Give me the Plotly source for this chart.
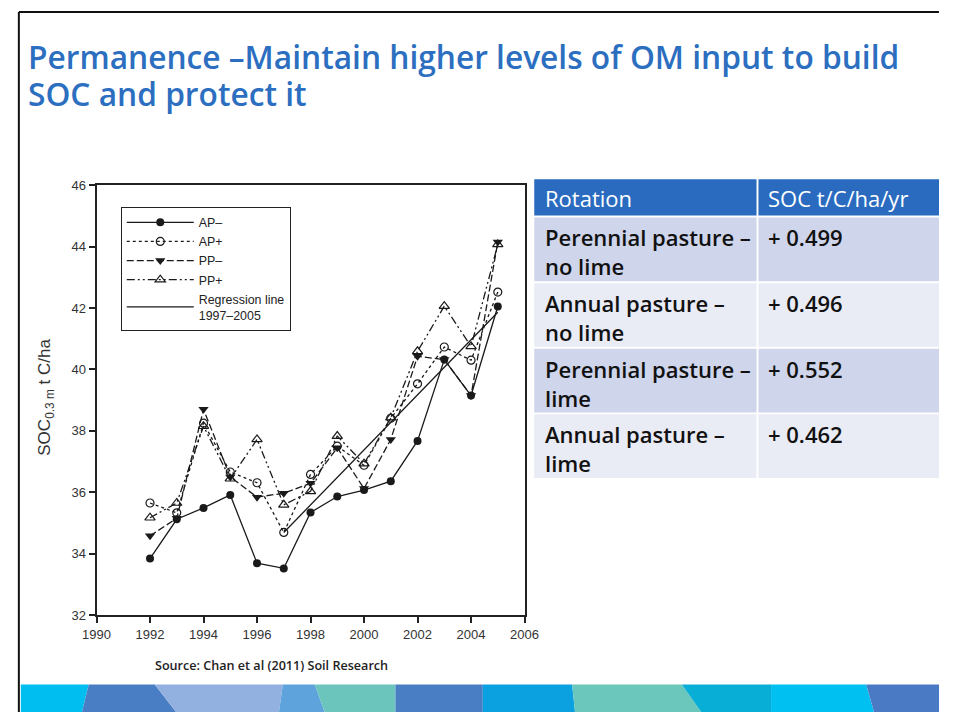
import plotly.graph_objects as go

W, H = 953, 720

years = [1992, 1993, 1994, 1995, 1996, 1997, 1998, 1999, 2000, 2001, 2002, 2003, 2004, 2005]
ap_minus = [33.84, 35.12, 35.49, 35.91, 33.69, 33.52, 35.34, 35.86, 36.07, 36.36, 37.67, 40.32, 39.15, 42.05]
ap_plus = [35.65, 35.33, 38.25, 36.66, 36.31, 34.69, 36.58, 37.50, 36.88, 38.41, 39.53, 40.73, 40.30, 42.52]
pp_minus = [34.58, 35.15, 38.70, 36.50, 35.84, 35.97, 36.29, 37.45, 36.12, 37.72, 40.43, 40.32, 39.15, 44.15]
pp_plus = [35.17, 35.65, 38.15, 36.44, 37.72, 35.59, 36.03, 37.83, 36.93, 38.43, 40.59, 42.06, 40.75, 44.07]
reg_years = [1997, 2005]
reg_values = [34.69, 41.86]

x_ticks = [1990, 1992, 1994, 1996, 1998, 2000, 2002, 2004, 2006]
y_ticks = [32, 34, 36, 38, 40, 42, 44, 46]

table_header = ["Rotation", "SOC t/C/ha/yr"]
rotations = ["Perennial pasture –<br>no lime", "Annual pasture –<br>no lime",
             "Perennial pasture –<br>lime", "Annual pasture –<br>lime"]
rates = ["+ 0.499", "+ 0.496", "+ 0.552", "+ 0.462"]

title_lines = ["Permanence –Maintain higher levels of OM input to build", "SOC and protect it"]
source_text = "Source: Chan et al (2011) Soil Research"


def fx(px):
    return px / W


def fy(py):
    return 1 - py / H


INK = "#1a1a1a"
fig = go.Figure()

fig.add_trace(go.Scatter(x=years, y=ap_minus, name="AP–", mode="lines+markers",
                         line=dict(color=INK, width=1.3),
                         marker=dict(symbol="circle", size=8, color=INK)))
fig.add_trace(go.Scatter(x=years, y=ap_plus, name="AP+", mode="lines+markers",
                         line=dict(color=INK, width=1.3, dash="dot"),
                         marker=dict(symbol="circle-open", size=8, color=INK, line=dict(width=1.2))))
fig.add_trace(go.Scatter(x=years, y=pp_minus, name="PP–", mode="lines+markers",
                         line=dict(color=INK, width=1.3, dash="7px,3px"),
                         marker=dict(symbol="triangle-down", size=9, color=INK)))
fig.add_trace(go.Scatter(x=years, y=pp_plus, name="PP+", mode="lines+markers",
                         line=dict(color=INK, width=1.3, dash="8px,3px,2px,3px,2px,3px"),
                         marker=dict(symbol="triangle-up-open", size=9, color=INK, line=dict(width=1.2))))
fig.add_trace(go.Scatter(x=reg_years, y=reg_values, name="Regression line<br>1997–2005", mode="lines",
                         line=dict(color=INK, width=1.3)))

axis_common = dict(showgrid=False, zeroline=False, showline=True, linecolor="#222", linewidth=2,
                   mirror=True, ticks="outside", ticklen=6, tickwidth=2, tickcolor="#222",
                   tickfont=dict(family="Liberation Sans, Arial", size=13, color="#333"))
fig.update_xaxes(domain=[fx(85), fx(526)], range=[1990, 2006], tickvals=x_ticks, **axis_common)
fig.update_yaxes(domain=[fy(621), fy(182)], range=[32, 46], tickvals=y_ticks, **axis_common)

TITLE_FONT = dict(family="Open Sans", size=31.7, color="#2C6EBF", weight=600)
annotations = [
    dict(text=title_lines[0], x=fx(12), y=fy(51), xanchor="left", yanchor="middle", font=TITLE_FONT),
    dict(text=title_lines[1], x=fx(12), y=fy(88), xanchor="left", yanchor="middle", font=TITLE_FONT),
    dict(text="SOC<sub>0.3 m</sub> t C/ha", x=fx(33), y=fy(399), textangle=-90,
         xanchor="center", yanchor="middle",
         font=dict(family="Liberation Sans, Arial", size=17, color="#333")),
    dict(text=source_text, x=fx(143), y=fy(672), xanchor="left", yanchor="middle",
         font=dict(family="Open Sans", size=12.6, color="#222", weight=600)),
]

shapes = []

# table drawn from the lists
col_x = [536, 766, 953]
header_top, header_h, row_h, gap = 176, 37, 65, 2
shapes.append(dict(type="rect", x0=fx(col_x[0]), x1=fx(col_x[1] - 1), y0=fy(header_top),
                   y1=fy(header_top + header_h), fillcolor="#2A6BBF", line=dict(width=0)))
shapes.append(dict(type="rect", x0=fx(col_x[1] + 1), x1=fx(col_x[2]), y0=fy(header_top),
                   y1=fy(header_top + header_h), fillcolor="#2A6BBF", line=dict(width=0)))
for j, htxt in enumerate(table_header):
    annotations.append(dict(text=htxt, x=fx(col_x[j] + 9), y=fy(header_top + header_h / 2 + 1),
                            xanchor="left", yanchor="middle",
                            font=dict(family="Open Sans", size=22, color="white", weight=500)))
for i, (rot, rate) in enumerate(zip(rotations, rates)):
    top = header_top + header_h + gap + i * (row_h + gap)
    fill = "#CFD5EA" if i % 2 == 0 else "#E9EBF5"
    shapes.append(dict(type="rect", x0=fx(col_x[0]), x1=fx(col_x[1] - 1), y0=fy(top),
                       y1=fy(top + row_h), fillcolor=fill, line=dict(width=0)))
    shapes.append(dict(type="rect", x0=fx(col_x[1] + 1), x1=fx(col_x[2]), y0=fy(top),
                       y1=fy(top + row_h), fillcolor=fill, line=dict(width=0)))
    for j, txt in enumerate([rot, rate]):
        annotations.append(dict(text=txt, x=fx(col_x[j] + 9), y=fy(top + 3), xanchor="left",
                                yanchor="top", align="left",
                                font=dict(family="Open Sans", size=22, color="#111111", weight=600)))

for a in annotations:
    a.update(xref="paper", yref="paper", showarrow=False)

# decorative bottom band
band = [
    ((7, 77), (7, 70), "#00BFF0"),
    ((77, 145), (70, 167), "#4A7EC4"),
    ((145, 277), (167, 273), "#92B0E0"),
    ((277, 310), (273, 320), "#5FA3DC"),
    ((310, 393), (320, 393), "#6BC5BC"),
    ((393, 483), (393, 483), "#4A7EC4"),
    ((483, 575), (483, 578), "#0BA0E0"),
    ((575, 688), (578, 708), "#6BC6BB"),
    ((688, 780), (708, 780), "#08AED6"),
    ((780, 878), (780, 886), "#00C0F2"),
    ((878, 953), (886, 953), "#4A7AC4"),
]
for (t0, t1), (b0, b1), col in band:
    path = (f"M {fx(t0)} {fy(692)} L {fx(t1)} {fy(692)} L {fx(b1)} {fy(720)} "
            f"L {fx(b0)} {fy(720)} Z")
    shapes.append(dict(type="path", path=path, fillcolor=col, line=dict(width=0), layer="below"))
shapes.append(dict(type="line", x0=fx(5), x1=fx(953), y0=fy(5), y1=fy(5),
                   line=dict(color="#111", width=2)))
shapes.append(dict(type="line", x0=fx(5), x1=fx(5), y0=fy(5), y1=fy(720),
                   line=dict(color="#111", width=2)))
for s in shapes:
    s.update(xref="paper", yref="paper")

fig.update_layout(
    width=W, height=H, margin=dict(l=0, r=0, t=0, b=0),
    paper_bgcolor="white", plot_bgcolor="white",
    annotations=annotations, shapes=shapes,
    showlegend=True,
    legend=dict(x=fx(110), y=fy(204), xanchor="left", yanchor="top",
                bgcolor="white", bordercolor="#222", borderwidth=1,
                itemwidth=67, tracegroupgap=0,
                font=dict(family="Liberation Sans, Arial", size=12.4, color="#222")),
)

fig.write_html("out.html", config={"displayModeBar": False},
               post_script="document.body.style.margin='0';document.body.style.padding='0';"
                           "document.documentElement.style.overflow='hidden';"
                           "document.body.style.overflow='hidden';")
